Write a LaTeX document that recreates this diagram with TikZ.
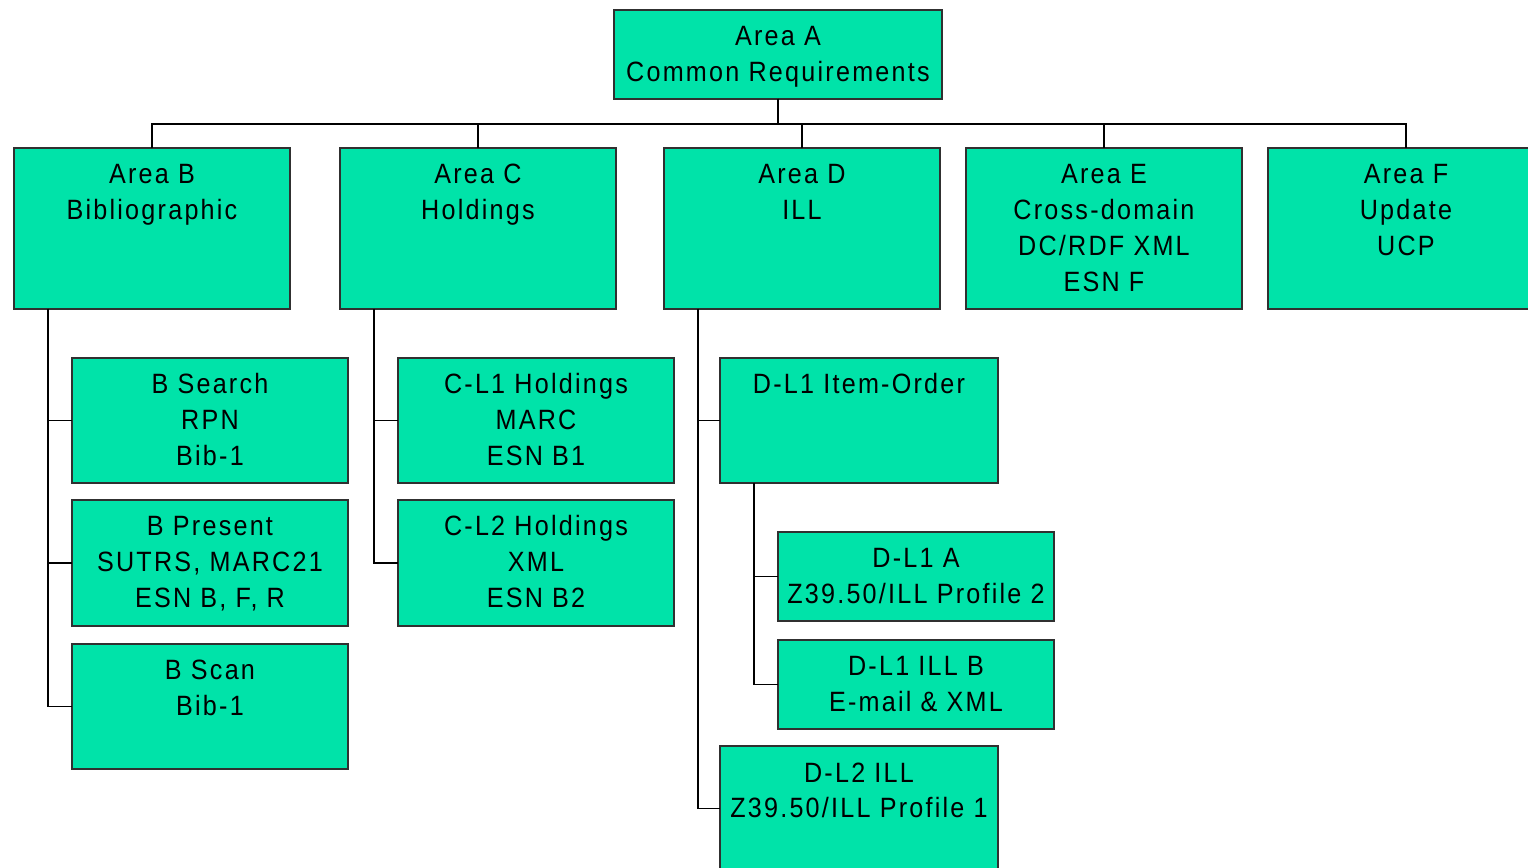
\documentclass[tikz,border=0pt]{standalone}
\usepackage{fontspec}
\newfontfamily\boxfont{Liberation Sans}[FakeStretch=0.9, LetterSpace=8]
\usetikzlibrary{calc}
\definecolor{cgreen}{HTML}{00E3A9}
\definecolor{cedge}{HTML}{303030}
\newcommand{\boxlines}[3]{\parbox[c][#1][t]{#2}{\centering\baselineskip=0.72cm\rule{0pt}{0.72cm}#3}}
\tikzset{
  every picture/.style={line width=1.1pt},
  area/.style={draw=cedge, fill=cgreen, anchor=north west, inner sep=0pt, outer sep=0pt,
    font=\boxfont\fontsize{15.9pt}{20.5pt}\selectfont},
  link/.style={draw=black, line width=1.1pt},
}

\begin{document}
\begin{tikzpicture}[x=0.02cm, y=-0.02cm]
  \useasboundingbox (0,0) rectangle (1528,868);
  \clip (0,0) rectangle (1528,868);
  % top level
  \node[area] (A) at (614,10) {\boxlines{1.78cm}{6.56cm}{Area A\\Common Requirements}};
  \node[area] (B) at (14,148) {\boxlines{3.22cm}{5.52cm}{Area B\\Bibliographic}};
  \node[area] (C) at (340,148) {\boxlines{3.22cm}{5.52cm}{Area C\\Holdings}};
  \node[area] (D) at (664,148) {\boxlines{3.22cm}{5.52cm}{Area D\\ILL}};
  \node[area] (E) at (966,148) {\boxlines{3.22cm}{5.52cm}{Area E\\Cross-domain\\DC/RDF XML\\ESN F}};
  \node[area] (F) at (1268,148) {\boxlines{3.22cm}{5.52cm}{Area F\\Update\\UCP}};
  % area B
  \node[area] (bsearch) at (72,358) {\boxlines{2.5cm}{5.52cm}{B Search\\RPN\\Bib-1}};
  \node[area] (bpresent) at (72,500) {\boxlines{2.52cm}{5.52cm}{B Present\\SUTRS, MARC21\\ESN B, F, R}};
  \node[area] (bscan) at (72,644) {\boxlines{2.5cm}{5.52cm}{B Scan\\Bib-1}};
  % area C
  \node[area] (cl1) at (398,358) {\boxlines{2.5cm}{5.52cm}{C-L1 Holdings\\MARC\\ESN B1}};
  \node[area] (cl2) at (398,500) {\boxlines{2.52cm}{5.52cm}{C-L2 Holdings\\XML\\ESN B2}};
  % area D
  \node[area] (dl1) at (720,358) {\boxlines{2.5cm}{5.56cm}{D-L1 Item-Order}};
  \node[area] (dl1a) at (778,532) {\boxlines{1.78cm}{5.52cm}{D-L1 A\\Z39.50/ILL Profile 2}};
  \node[area] (dl1b) at (778,640) {\boxlines{1.78cm}{5.52cm}{D-L1 ILL B\\E-mail \& XML}};
  \node[area] (dl2) at (720,746) {\boxlines{2.5cm}{5.56cm}{D-L2 ILL\\Z39.50/ILL Profile 1}};
  % connectors
  \coordinate (bus) at (0,124);
  \foreach \n in {B, C, D, E, F} \draw[link] (A.south) -- (A.south |- bus) -| (\n.north);
  \coordinate (bT) at ($(B.south west)+(34,0)$);
  \coordinate (cT) at ($(C.south west)+(34,0)$);
  \coordinate (dT) at ($(D.south west)+(34,0)$);
  \coordinate (dlT) at ($(dl1.south west)+(34,0)$);
  \foreach \c in {bsearch, bpresent, bscan} \draw[link] (bT) |- (\c.west);
  \foreach \c in {cl1, cl2} \draw[link] (cT) |- (\c.west);
  \foreach \c in {dl1, dl2} \draw[link] (dT) |- (\c.west);
  \foreach \c in {dl1a, dl1b} \draw[link] (dlT) |- (\c.west);
\end{tikzpicture}
\end{document}
